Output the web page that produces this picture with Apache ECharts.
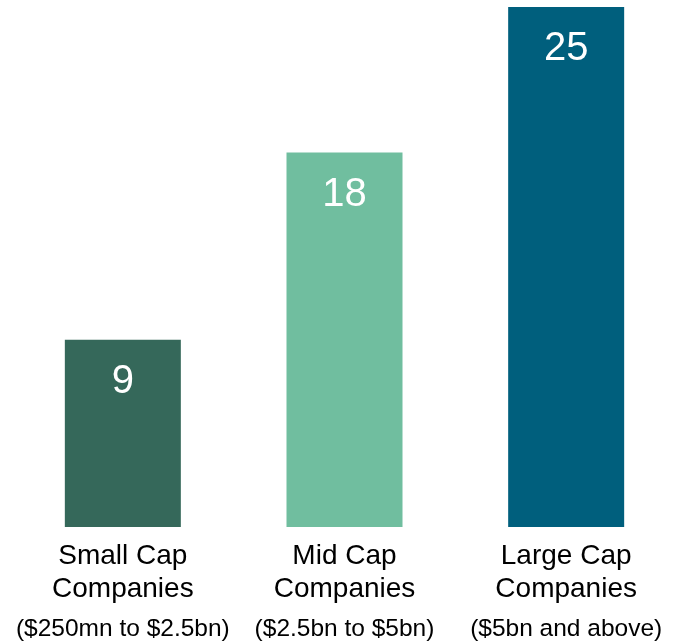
<!DOCTYPE html>
<html>
<head>
<meta charset="utf-8">
<script src="https://cdn.jsdelivr.net/npm/echarts@6/dist/echarts.min.js"></script>
<style>
  html, body { margin: 0; padding: 0; background: #ffffff; }
  #chart { width: 685px; height: 641px; }
</style>
</head>
<body>
<div id="chart"></div>
<script>
// Company count by market-cap bucket
const categories = ['Small Cap\nCompanies', 'Mid Cap\nCompanies', 'Large Cap\nCompanies'];
const capRanges = ['($250mn to $2.5bn)', '($2.5bn to $5bn)', '($5bn and above)'];
const counts = [9, 18, 25];
const barColors = ['#35685A', '#70BE9F', '#005F7D'];

const chart = echarts.init(document.getElementById('chart'));
chart.setOption({
  animation: false,
  grid: { left: 12, right: 8, top: 7, bottom: 114, containLabel: false, outerBoundsMode: 'none' },
  xAxis: {
    type: 'category',
    data: categories,
    axisLine: { show: false },
    axisTick: { show: false },
    axisLabel: {
      interval: 0,
      margin: 13,
      color: '#000000',
      formatter: (value, idx) =>
        value.split('\n').map(s => '{a|' + s + '}').join('\n') + '\n{b|' + capRanges[idx] + '}',
      rich: {
        a: {
          fontFamily: 'Liberation Sans, Arial, sans-serif',
          fontSize: 28,
          lineHeight: 33,
          color: '#000000'
        },
        b: {
          fontFamily: 'Liberation Sans, Arial, sans-serif',
          fontSize: 24.5,
          lineHeight: 46,
          color: '#000000'
        }
      }
    }
  },
  yAxis: {
    type: 'value',
    min: 0,
    max: 25,
    show: false,
    splitLine: { show: false }
  },
  series: [{
    type: 'bar',
    barWidth: 116,
    data: counts.map((v, i) => ({ value: v, itemStyle: { color: barColors[i] } })),
    label: {
      show: true,
      position: 'insideTop',
      distance: 22,
      color: '#ffffff',
      fontFamily: 'Liberation Sans, Arial, sans-serif',
      fontSize: 40
    }
  }]
});
</script>
</body>
</html>
